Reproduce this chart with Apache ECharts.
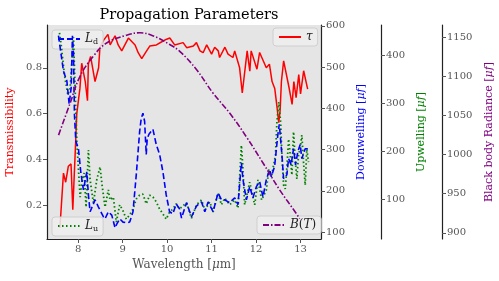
<!DOCTYPE html>
<html><head><meta charset="utf-8">
<script src="https://cdn.jsdelivr.net/npm/echarts@6/dist/echarts.min.js"></script>
<style>html,body{margin:0;padding:0;background:#fff}#c{width:499px;height:281px}</style>
</head><body><div id="c"></div>
<script>
// ---- data ----
const xTicks = [8, 9, 10, 11, 12, 13];
const tauTicks = [0.2, 0.4, 0.6, 0.8];
const downTicks = [100, 200, 300, 400, 500, 600];
const upTicks = [100, 200, 300, 400];
const bbTicks = [900, 950, 1000, 1050, 1100, 1150];

const wlTau = [7.59,7.67,7.72,7.78,7.84,7.88,7.93,7.97,8.04,8.08,8.16,8.21,8.23,8.28,8.38,8.46,8.49,8.57,8.67,8.72,8.83,8.90,8.98,9.13,9.28,9.35,9.43,9.54,9.61,9.76,9.91,9.99,10.06,10.17,10.36,10.44,10.59,10.66,10.74,10.81,10.89,11.00,11.07,11.15,11.18,11.30,11.37,11.48,11.52,11.63,11.69,11.80,11.86,11.89,12.02,12.08,12.23,12.30,12.36,12.42,12.47,12.51,12.54,12.57,12.62,12.66,12.74,12.81,12.85,12.90,12.96,13.00,13.07,13.16];
const tau = [0.10,0.34,0.30,0.37,0.38,0.18,0.41,0.60,0.71,0.82,0.74,0.656,0.816,0.85,0.74,0.80,0.89,0.92,0.946,0.90,0.94,0.90,0.874,0.93,0.90,0.866,0.84,0.874,0.895,0.90,0.917,0.925,0.93,0.90,0.91,0.888,0.895,0.91,0.874,0.866,0.90,0.86,0.89,0.874,0.845,0.89,0.86,0.845,0.874,0.80,0.69,0.874,0.785,0.874,0.794,0.867,0.80,0.816,0.74,0.71,0.63,0.56,0.61,0.74,0.83,0.83,0.715,0.64,0.74,0.67,0.77,0.686,0.787,0.707];

const wlDown = [7.558,7.670,7.747,7.798,7.843,7.872,7.895,7.917,7.948,8.007,8.061,8.119,8.195,8.231,8.269,8.381,8.455,8.493,8.567,8.605,8.679,8.756,8.830,8.859,8.935,9.009,9.092,9.159,9.233,9.307,9.383,9.419,9.457,9.495,9.531,9.554,9.592,9.643,9.682,9.756,9.832,9.906,9.980,10.056,10.130,10.204,10.280,10.325,10.437,10.549,10.661,10.774,10.848,10.922,11.034,11.146,11.222,11.296,11.408,11.520,11.594,11.670,11.706,11.783,11.857,11.930,12.007,12.081,12.155,12.231,12.305,12.343,12.417,12.491,12.522,12.581,12.619,12.693,12.731,12.787,12.843,12.888,12.939,12.993,13.029,13.105,13.164];
const down = [576,490,466,410,449,576,532,385,320,302,244,202,246,190,149,178,161,161,137,132,149,141,110,117,132,124,122,124,149,239,344,376,388,368,288,327,337,344,349,312,288,246,190,149,144,168,156,134,171,137,163,173,149,173,149,195,178,178,171,183,166,268,227,178,210,183,210,222,185,227,251,234,259,337,361,288,229,239,278,263,302,263,295,312,278,302,302];

const wlUp = [7.581,7.619,7.693,7.769,7.821,7.895,7.933,7.971,8.045,8.090,8.135,8.179,8.231,8.269,8.343,8.419,8.493,8.538,8.605,8.679,8.717,8.791,8.859,8.935,9.002,9.083,9.159,9.233,9.307,9.383,9.457,9.531,9.607,9.682,9.756,9.832,9.906,9.980,10.056,10.130,10.204,10.280,10.325,10.437,10.549,10.661,10.774,10.848,10.960,11.034,11.146,11.222,11.296,11.408,11.520,11.594,11.670,11.700,11.744,11.857,11.969,12.043,12.126,12.231,12.287,12.354,12.437,12.469,12.511,12.552,12.581,12.619,12.657,12.697,12.731,12.769,12.805,12.843,12.881,12.917,12.955,12.993,13.029,13.067,13.105,13.141,13.179];
const up = [446,421,358,317,331,437,327,219,104,140,154,83,202,140,92,140,167,129,83,119,98,104,52,88,77,58,67,79,100,108,110,90,108,104,94,79,69,58,73,79,90,79,83,92,60,88,98,77,94,73,112,88,102,88,98,81,212,171,88,135,88,140,98,119,162,150,192,260,302,260,192,129,121,171,225,192,150,240,181,142,192,206,233,177,129,204,177];

const wlBB = [7.56,7.82,8.04,8.34,8.64,9.09,9.39,9.69,10.06,10.29,10.66,11.03,11.41,11.78,12.16,12.53,12.90,12.98];
const bb = [1025,1066,1100,1126,1143,1153,1156,1152,1141,1132,1109,1079,1053,1023,989,955,925,918];

// ---- chart ----
const pairs = (xs, ys) => xs.map((x, i) => [x, ys[i]]);
const F = 'DejaVu Serif';
const tickColor = '#555';
function yAx(opts) {
  return Object.assign({
    type: 'value', splitLine: {show: false},
    axisLine: {show: true, onZero: false, lineStyle: {color: '#222', width: 1.2}},
    nameLocation: 'middle', nameRotate: 90,
  }, opts);
}
function ticks(vals, fmt) {
  return {
    axisTick: {show: true, length: 4, lineStyle: {color: '#555'}, customValues: vals},
    axisLabel: {color: tickColor, fontFamily: F, fontSize: 10, margin: 5, customValues: vals, formatter: fmt || (v => String(v))}
  };
}
function nameStyle(color) {
  return {color: color, fontFamily: F, fontSize: 11, rich: {i: {fontStyle: 'italic', fontFamily: F, fontSize: 11, color: color}}};
}
const chart = echarts.init(document.getElementById('c'), null, {renderer: 'canvas'});
const legBase = {
  orient: 'vertical', backgroundColor: 'rgba(238,238,238,0.85)', borderColor: '#cfcfcf',
  borderWidth: 1, borderRadius: 3, padding: [3, 5, 3, 5], itemWidth: 22, itemHeight: 8, itemGap: 4,
  itemStyle: {opacity: 0},
  textStyle: {fontFamily: F, fontSize: 12, color: '#222',
    rich: {a: {fontStyle: 'italic', fontFamily: F, fontSize: 12}, b: {fontFamily: F, fontSize: 8, padding: [6, 0, 0, 0]}}}
};
chart.setOption({
  animation: false,
  title: {text: 'Propagation Parameters', left: 184, textAlign: 'center', top: 3,
    textStyle: {fontFamily: F, fontSize: 14.5, fontWeight: 'normal', color: '#000'}},
  grid: {left: 47, right: 178, top: 25, bottom: 42, show: true, backgroundColor: '#e5e5e5', borderWidth: 0,
    containLabel: false, outerBoundsMode: 'none'},
  xAxis: Object.assign({
    type: 'value', min: 7.3, max: 13.46, splitLine: {show: false},
    axisLine: {show: true, onZero: false, lineStyle: {color: '#222', width: 1.2}},
    name: 'Wavelength [{i|μ}m]', nameLocation: 'middle', nameGap: 20,
    nameTextStyle: {color: '#555', fontFamily: F, fontSize: 12, rich: {i: {fontStyle: 'italic', fontFamily: F, fontSize: 12, color: '#555'}}}
  }, ticks(xTicks)),
  yAxis: [
    yAx(Object.assign({position: 'left', min: 0.052, max: 0.987,
      name: 'Transmissibility', nameGap: 27.5, nameTextStyle: {color: '#ff0000', fontFamily: F, fontSize: 11}}, ticks(tauTicks, v => v.toFixed(1)))),
    yAx(Object.assign({position: 'right', offset: 0, min: 83, max: 602,
      name: 'Downwelling [{i|μf}]', nameGap: 24, nameTextStyle: nameStyle('#0000ff')}, ticks(downTicks))),
    yAx(Object.assign({position: 'right', offset: 60, min: 16.7, max: 462.5,
      name: 'Upwelling [{i|μf}]', nameGap: 23.5, nameTextStyle: nameStyle('#008000')}, ticks(upTicks))),
    yAx(Object.assign({position: 'right', offset: 121, min: 892, max: 1166,
      name: 'Black body Radiance [{i|μf}]', nameGap: 26, nameTextStyle: nameStyle('#800080')}, ticks(bbTicks)))
  ],
  legend: [
    Object.assign({}, legBase, {data: ['Ld'], left: 52, top: 30, formatter: () => '{a|L}{b|d}'}),
    Object.assign({}, legBase, {data: ['tau'], left: 273, top: 28, formatter: () => '{a|τ}'}),
    Object.assign({}, legBase, {data: ['Lu'], left: 52, top: 217, formatter: () => '{a|L}{b|u}'}),
    Object.assign({}, legBase, {data: ['BT'], left: 257, top: 216, formatter: () => '{a|B}({a|T})'})
  ],
  series: [
    {name: 'tau', type: 'line', yAxisIndex: 0, data: pairs(wlTau, tau), symbol: 'none', z: 3,
      lineStyle: {color: '#ff0000', width: 1.5}, itemStyle: {color: '#ff0000'}},
    {name: 'Lu', type: 'line', yAxisIndex: 2, data: pairs(wlUp, up), symbol: 'none', z: 4,
      lineStyle: {color: '#008000', width: 1.8, type: [1.5, 2.5]}, itemStyle: {color: '#008000'}},
    {name: 'Ld', type: 'line', yAxisIndex: 1, data: pairs(wlDown, down), symbol: 'none', z: 5,
      lineStyle: {color: '#0000ff', width: 1.6, type: [6, 3]}, itemStyle: {color: '#0000ff'}},
    {name: 'BT', type: 'line', yAxisIndex: 3, data: pairs(wlBB, bb), symbol: 'none', smooth: 0.4, z: 6,
      lineStyle: {color: '#800080', width: 1.6, type: [6, 2, 1.5, 2]}, itemStyle: {color: '#800080'}}
  ]
});
</script></body></html>
